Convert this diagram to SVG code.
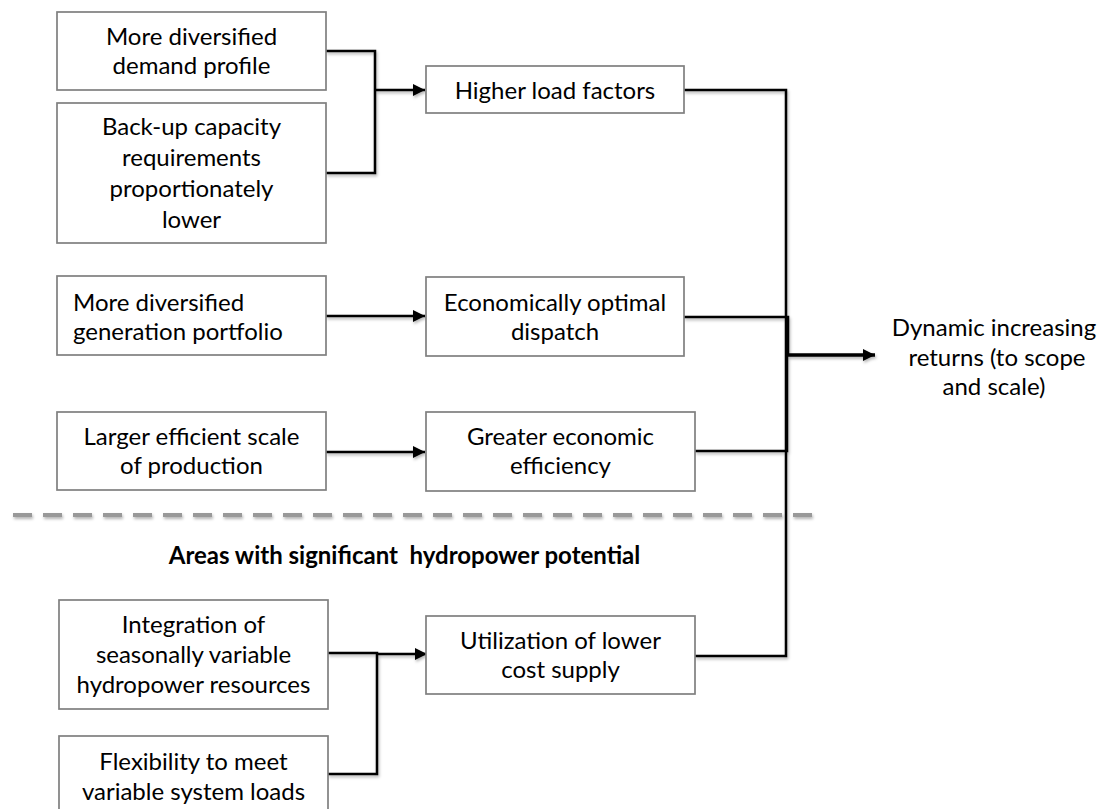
<svg xmlns="http://www.w3.org/2000/svg" width="1101" height="809" viewBox="0 0 1101 809">
  <style>
    .box { fill: #ffffff; stroke: #7f7f7f; stroke-width: 1.7; }
    .t { font-family: Lato, "Liberation Sans", sans-serif; font-size: 24px; fill: #000000; text-anchor: middle; }
    .tl { text-anchor: start; }
    .hd { font-family: Lato, "Liberation Sans", sans-serif; font-size: 24px; font-weight: bold; fill: #000000; text-anchor: middle; white-space: pre; }
    .c { fill: none; stroke: #000000; stroke-width: 2.5; stroke-linejoin: miter; }
    .cb { stroke-width: 3.5; }
  </style>
  <defs>
    <marker id="ah" markerUnits="userSpaceOnUse" markerWidth="13" markerHeight="13" refX="12" refY="6" orient="auto">
      <path d="M0,0 L12,6 L0,12 z" fill="#000000"/>
    </marker>
    <filter id="sh" filterUnits="userSpaceOnUse" x="0" y="0" width="1101" height="809">
      <feDropShadow dx="1" dy="2" stdDeviation="1.5" flood-color="#000000" flood-opacity="0.3"/>
    </filter>
  </defs>

  <rect width="1101" height="809" fill="#ffffff"/>

  <g id="separator" filter="url(#sh)">
    <line x1="13" y1="515" x2="812" y2="515" stroke="#999999" stroke-width="4" stroke-dasharray="19 11"/>
  </g>

  <g id="connectors" filter="url(#sh)">
    <path class="c" d="M326,51 H375 V173 H326"/>
    <path class="c" d="M375,90 H425" marker-end="url(#ah)"/>
    <path class="c" d="M326,316 H425" marker-end="url(#ah)"/>
    <path class="c" d="M326,452 H425" marker-end="url(#ah)"/>
    <path class="c" d="M684,90 H786 V355"/>
    <path class="c" d="M684,317 H788 V355"/>
    <path class="c" d="M695,451 H787 V355"/>
    <path class="c" d="M695,656 H786 V355"/>
    <path class="c cb" d="M786,355 H875" marker-end="url(#ah)"/>
    <path class="c" d="M328,653 H377 V774 H328"/>
    <path class="c" d="M377,654 H427" marker-end="url(#ah)"/>
  </g>

  <g id="n-demand">
    <rect class="box" x="57" y="12" width="269" height="78"/>
    <text class="t" x="191.5" y="45">More diversified</text>
    <text class="t" x="191.5" y="74">demand profile</text>
  </g>
  <g id="n-backup">
    <rect class="box" x="57" y="103" width="269" height="140"/>
    <text class="t" x="191.5" y="135">Back-up capacity</text>
    <text class="t" x="191.5" y="166">requirements</text>
    <text class="t" x="191.5" y="197">proportionately</text>
    <text class="t" x="191.5" y="228">lower</text>
  </g>
  <g id="n-generation">
    <rect class="box" x="57" y="276" width="269" height="79"/>
    <text class="t tl" x="73" y="311">More diversified</text>
    <text class="t tl" x="73" y="340">generation portfolio</text>
  </g>
  <g id="n-scale">
    <rect class="box" x="57" y="412" width="269" height="78"/>
    <text class="t" x="191.5" y="445">Larger efficient scale</text>
    <text class="t" x="191.5" y="474">of production</text>
  </g>
  <g id="n-load">
    <rect class="box" x="426" y="66" width="258" height="47"/>
    <text class="t" x="555" y="99">Higher load factors</text>
  </g>
  <g id="n-dispatch">
    <rect class="box" x="426" y="277" width="258" height="79"/>
    <text class="t" x="555" y="311">Economically optimal</text>
    <text class="t" x="555" y="340">dispatch</text>
  </g>
  <g id="n-efficiency">
    <rect class="box" x="426" y="412" width="269" height="79"/>
    <text class="t" x="560.5" y="445">Greater economic</text>
    <text class="t" x="560.5" y="474">efficiency</text>
  </g>
  <g id="n-returns">
    <text class="t" x="994" y="336">Dynamic increasing</text>
    <text class="t" x="997" y="366">returns (to scope</text>
    <text class="t" x="994" y="395">and scale)</text>
  </g>
  <g id="heading">
    <text class="hd" x="404.5" y="564" xml:space="preserve">Areas with significant  hydropower potential</text>
  </g>
  <g id="n-integration">
    <rect class="box" x="59" y="600" width="269" height="109"/>
    <text class="t" x="193.5" y="633">Integration of</text>
    <text class="t" x="193.5" y="663">seasonally variable</text>
    <text class="t" x="193.5" y="693">hydropower resources</text>
  </g>
  <g id="n-flexibility">
    <rect class="box" x="59" y="736" width="269" height="80"/>
    <text class="t" x="193.5" y="770">Flexibility to meet</text>
    <text class="t" x="193.5" y="800">variable system loads</text>
  </g>
  <g id="n-utilization">
    <rect class="box" x="426" y="616" width="269" height="78"/>
    <text class="t" x="560.5" y="649">Utilization of lower</text>
    <text class="t" x="560.5" y="678">cost supply</text>
  </g>
</svg>
